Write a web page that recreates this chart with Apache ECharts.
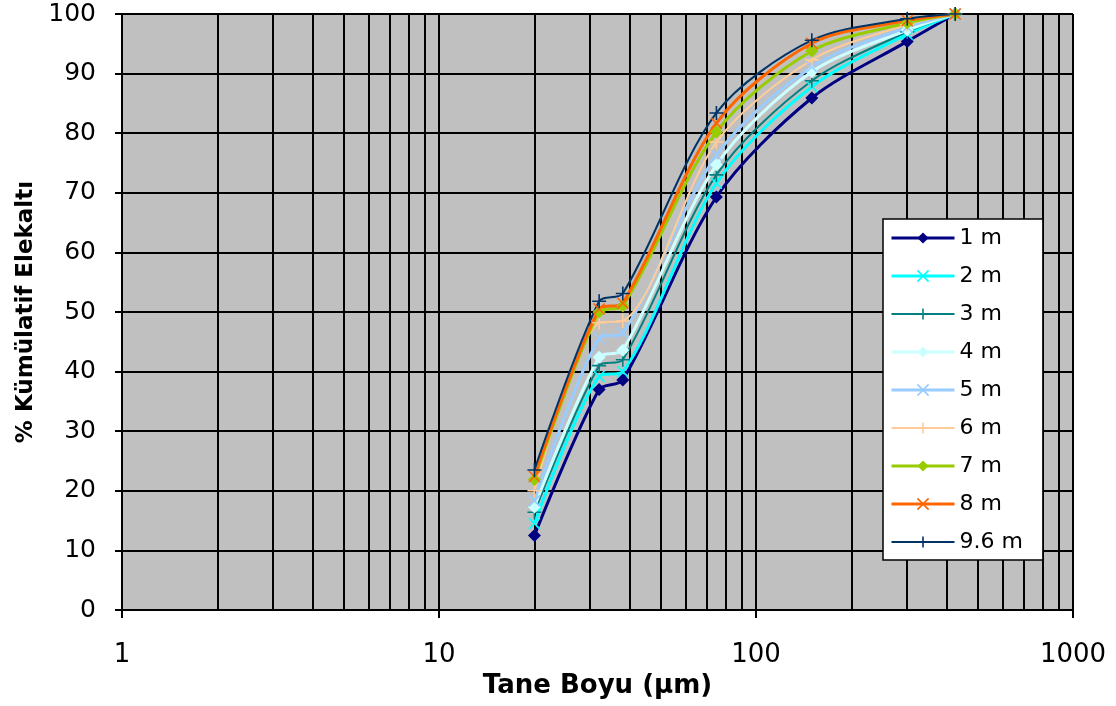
<!DOCTYPE html>
<html>
<head>
<meta charset="utf-8">
<script src="https://cdn.jsdelivr.net/npm/echarts@6/dist/echarts.min.js"></script>
<style>
  html, body { margin: 0; padding: 0; background: #fff; }
  #chart { width: 1116px; height: 706px; }
</style>
</head>
<body>
<div id="chart"></div>
<script>
// Particle sizes (µm) sampled
const sizes = [20, 32, 38, 75, 150, 300, 425];
// Cumulative passing (%) per depth
const v1m  = [12.5, 37.0, 38.6, 69.3, 85.9, 95.4, 100];
const v2m  = [14.5, 39.2, 40.0, 71.6, 87.8, 96.6, 100];
const v3m  = [16.4, 41.0, 42.0, 73.0, 88.8, 97.0, 100];
const v4m  = [17.3, 42.4, 43.6, 74.7, 90.3, 97.3, 100];
const v5m  = [18.3, 45.6, 46.5, 76.3, 91.1, 97.8, 100];
const v6m  = [20.0, 48.2, 48.5, 78.5, 92.3, 98.2, 100];
const v7m  = [21.9, 50.0, 51.0, 80.2, 93.8, 98.5, 100];
const v8m  = [22.4, 50.5, 51.5, 81.7, 95.1, 98.9, 100];
const v96m = [23.5, 51.8, 53.1, 83.4, 95.6, 99.2, 100];
const seriesNames = ['1 m', '2 m', '3 m', '4 m', '5 m', '6 m', '7 m', '8 m', '9.6 m'];
// Minor log gridline positions
const minorGrid = [2, 3, 4, 5, 6, 7, 8, 9, 20, 30, 40, 50, 60, 70, 80, 90, 200, 300, 400, 500, 600, 700, 800, 900];

const XSYM = 'path://M0,0L10,10M10,0L0,10';
const PSYM = 'path://M5,0L5,10M0,5L10,5';

const styles = {
  '1 m':   { color: '#000080', symbol: 'diamond', size: 13, width: 3 },
  '2 m':   { color: '#00FFFF', symbol: XSYM, size: 11, width: 3 },
  '3 m':   { color: '#008080', symbol: PSYM, size: 14, width: 2 },
  '4 m':   { color: '#CCFFFF', symbol: 'diamond', size: 13, width: 3 },
  '5 m':   { color: '#99CCFF', symbol: XSYM, size: 11, width: 3 },
  '6 m':   { color: '#FFCC99', symbol: PSYM, size: 14, width: 2 },
  '7 m':   { color: '#99CC00', symbol: 'diamond', size: 13, width: 3 },
  '8 m':   { color: '#FF6600', symbol: XSYM, size: 11, width: 3 },
  '9.6 m': { color: '#003366', symbol: PSYM, size: 14, width: 2 }
};
const valuesByName = { '1 m': v1m, '2 m': v2m, '3 m': v3m, '4 m': v4m, '5 m': v5m,
  '6 m': v6m, '7 m': v7m, '8 m': v8m, '9.6 m': v96m };

function mk(name) {
  const s = styles[name];
  const vals = valuesByName[name];
  const isPath = s.symbol.indexOf('path://') === 0;
  return {
    name: name,
    type: 'line',
    data: sizes.map((x, i) => [x, vals[i]]),
    smooth: 0.3,
    symbol: s.symbol,
    symbolSize: s.size,
    showSymbol: true,
    showAllSymbol: true,
    lineStyle: { color: s.color, width: s.width },
    itemStyle: { color: s.color, borderColor: s.color, borderWidth: isPath ? 1.6 : 0 },
    z: 3,
    animation: false
  };
}

const chart = echarts.init(document.getElementById('chart'));
const FONT = 'DejaVu Sans';

chart.setOption({
  animation: false,
  backgroundColor: '#ffffff',
  grid: {
    left: 122, right: 43, top: 14, bottom: 96,
    show: true, backgroundColor: '#c0c0c0', borderColor: '#000', borderWidth: 0
  },
  legend: {
    data: seriesNames.map(n => {
      const s = styles[n];
      return {
        name: n,
        lineStyle: { color: s.color, width: s.width },
        itemStyle: { color: s.color, borderColor: s.color, borderWidth: s.symbol.indexOf('path://') === 0 ? 1.6 : 0 }
      };
    }),
    orient: 'vertical',
    left: 883, top: 219,
    padding: [8, 20, 7, 7],
    itemWidth: 63, itemHeight: 14, itemGap: 16,
    backgroundColor: '#ffffff',
    borderColor: '#000', borderWidth: 1.5,
    textStyle: { fontFamily: FONT, fontSize: 22, color: '#000', lineHeight: 22 },
    selectedMode: false,
    z: 10
  },
  xAxis: {
    type: 'log', logBase: 10, min: 1, max: 1000,
    name: 'Tane Boyu (µm)', nameLocation: 'middle', nameGap: 61,
    nameTextStyle: { fontFamily: FONT, fontSize: 26, fontWeight: 'bold', color: '#000' },
    axisLine: { lineStyle: { color: '#000', width: 2 } },
    axisTick: { show: true, length: 8, inside: false, lineStyle: { color: '#000', width: 2 } },
    axisLabel: { fontFamily: FONT, fontSize: 26, color: '#000', margin: 32,
      formatter: v => String(Math.round(v)) },
    splitLine: { show: true, lineStyle: { color: '#000', width: 2 } }
  },
  yAxis: {
    type: 'value', min: 0, max: 100, interval: 10,
    name: '% Kümülatif Elekaltı', nameLocation: 'middle', nameGap: 84,
    nameTextStyle: { fontFamily: FONT, fontSize: 23, fontWeight: 'bold', color: '#000' },
    axisLine: { show: true, lineStyle: { color: '#000', width: 2 } },
    axisTick: { show: true, length: 7, inside: false, lineStyle: { color: '#000', width: 2 } },
    axisLabel: { fontFamily: FONT, fontSize: 25, color: '#000', margin: 26 },
    splitLine: { show: true, lineStyle: { color: '#000', width: 2 } }
  },
  series: [
    {
      name: 'grid-minor', type: 'line', data: [], z: 1, silent: true,
      markLine: {
        z: 1,
        silent: true, symbol: ['none', 'none'], animation: false,
        label: { show: false },
        lineStyle: { color: '#000', width: 2, type: 'solid' },
        emphasis: { disabled: true },
        data: minorGrid.map(v => ({ xAxis: v }))
      }
    }
  ].concat(seriesNames.map(mk))
});
</script>
</body>
</html>
